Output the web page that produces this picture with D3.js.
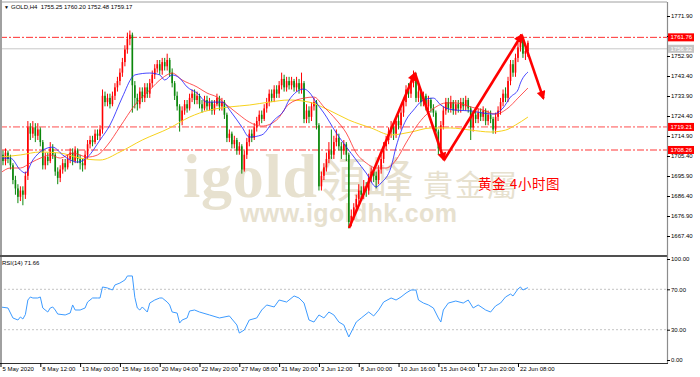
<!DOCTYPE html>
<html>
<head>
<meta charset="utf-8">
<script src="https://cdn.jsdelivr.net/npm/d3@7"></script>
<style>
  html, body { margin: 0; padding: 0; background: #fff; }
  svg { display: block; font-family: "Liberation Sans", Arial, sans-serif; }
</style>
</head>
<body>
<div id="chart"></div>
<script>
// GOLD H4 candles, 5 May - 22 Jun 2020 (open of each bar = previous close)
const firstOpen = 1704;
const closes = [
  1706,1703,1707,1704,1701,1694,1690,1686,1689,1687,
  1696,1719,1716,1719,1715,1718,1712,1701,1705,1703,
  1709,1706,1698,1695,1699,1702,1700,1704,1707,1703,
  1708,1704,1702,1701,1706,1711,1713,1712,1716,1715,
  1718,1734,1731,1733,1730,1734,1738,1741,1745,1750,
  1756,1761,1763,1739,1733,1730,1736,1733,1738,1735,
  1740,1744,1747,1749,1746,1750,1748,1751,1745,1740,
  1734,1729,1722,1727,1730,1728,1733,1735,1732,1734,
  1730,1728,1732,1729,1731,1727,1730,1733,1729,1731,
  1725,1714,1716,1711,1713,1708,1710,1699,1706,1712,
  1716,1714,1719,1722,1725,1723,1728,1731,1735,1733,
  1737,1735,1739,1742,1738,1741,1739,1741,1738,1740,
  1737,1740,1723,1727,1724,1729,1731,1720,1691,1696,
  1700,1704,1708,1706,1712,1714,1710,1708,1711,1706,
  1674,1677,1681,1685,1689,1687,1691,1689,1695,1698,
  1696,1694,1699,1704,1710,1713,1717,1719,1716,1722,
  1720,1726,1731,1737,1735,1740,1743,1733,1736,1731,
  1734,1729,1732,1728,1726,1717,1709,1720,1727,1731,
  1728,1731,1727,1730,1728,1731,1729,1732,1728,1719,
  1725,1723,1726,1724,1727,1722,1725,1723,1718,1724,
  1727,1731,1735,1733,1741,1749,1745,1752,1757,1761,
  1754,1755.25,1759.17
];
const highs = [
  1709,1708,1709,1708,1706,1702,1696,1692,1691,1691,
  1698,1722,1721,1722,1721,1721,1719,1713,1707,1707,
  1712,1711,1707,1700,1701,1704,1704,1706,1709,1709,
  1710,1709,1706,1704,1708,1713,1715,1715,1718,1718,
  1720,1737,1736,1735,1735,1736,1740,1743,1747,1752,
  1758,1764,1765,1764,1741,1735,1738,1738,1740,1740,
  1742,1746,1749,1751,1751,1752,1752,1754,1752,1747,
  1741,1736,1730,1729,1732,1732,1735,1737,1737,1736,
  1735,1732,1734,1734,1733,1732,1732,1735,1734,1733,
  1732,1726,1718,1717,1715,1714,1712,1711,1708,1714,
  1718,1718,1721,1724,1727,1727,1730,1733,1737,1737,
  1739,1739,1741,1745,1744,1743,1743,1743,1742,1743,
  1742,1745,1741,1730,1729,1731,1733,1732,1721,1698,
  1702,1707,1712,1718,1715,1718,1716,1712,1713,1712,
  1707,1680,1683,1687,1692,1691,1694,1693,1697,1700,
  1700,1698,1701,1706,1712,1715,1719,1722,1721,1724,
  1725,1728,1733,1739,1740,1742,1746,1745,1739,1737,
  1736,1735,1734,1733,1730,1727,1718,1722,1729,1733,
  1733,1734,1732,1732,1732,1733,1733,1734,1733,1729,
  1727,1727,1728,1728,1729,1728,1727,1727,1724,1726,
  1729,1733,1737,1738,1743,1751,1751,1754,1759,1763.3,
  1762,1757,1760.2
];
const lows = [
  1702,1701,1701,1702,1699,1692,1687,1683,1684,1682,
  1685,1694,1713,1714,1712,1713,1710,1699,1699,1701,
  1702,1704,1696,1692,1693,1697,1698,1699,1702,1701,
  1702,1702,1699,1698,1699,1704,1709,1710,1711,1713,
  1713,1716,1729,1729,1728,1729,1732,1736,1739,1743,
  1748,1754,1758,1726,1728,1727,1728,1731,1731,1733,
  1733,1738,1742,1745,1744,1744,1746,1746,1743,1738,
  1732,1727,1717,1720,1725,1726,1727,1731,1730,1730,
  1728,1726,1727,1727,1727,1725,1725,1729,1727,1727,
  1723,1712,1712,1709,1709,1706,1706,1697,1698,1704,
  1710,1712,1713,1717,1720,1721,1722,1726,1729,1731,
  1731,1733,1733,1737,1736,1736,1737,1737,1736,1736,
  1735,1735,1721,1721,1721,1722,1727,1718,1689,1689,
  1694,1698,1702,1704,1704,1710,1708,1704,1706,1703,
  1671,1672,1675,1679,1683,1685,1685,1686,1687,1693,
  1693,1690,1692,1697,1702,1708,1711,1714,1713,1714,
  1718,1718,1724,1729,1733,1733,1738,1731,1731,1729,
  1729,1727,1727,1726,1724,1715,1706,1707,1718,1725,
  1726,1726,1725,1725,1726,1726,1727,1727,1726,1713,
  1717,1721,1721,1722,1722,1720,1720,1721,1716,1716,
  1722,1725,1729,1731,1731,1739,1743,1743,1750,1755,
  1752,1751,1752.48
];

// moving averages: [bar, price]
const maFast = [
  [0,1704.4],[4,1704.4],[8,1698.7],[10,1697.3],[13,1703.5],[17,1708.2],[21,1709.6],
  [25,1705.9],[28,1703.5],[31,1702.5],[35,1704.9],[40,1713.0],[44,1720.1],[49,1733.4],
  [53,1742.9],[54,1743.9],[60,1744.8],[64,1743.9],[66,1741.5],[69,1743.9],[72,1742.4],
  [75,1738.2],[79,1735.3],[83,1731.0],[87,1731.0],[89,1731.0],[93,1725.8],[97,1719.2],
  [100,1714.4],[105,1715.4],[110,1722.5],[114,1727.2],[116,1732.0],[122,1737.2],
  [124,1735.8],[127,1730.6],[130,1725.8],[135,1716.3],[139,1709.7],[143,1703.5],
  [147,1697.3],[151,1690.7],[153,1692.6],[157,1700.2],[159,1709.7],[163,1722.5],
  [166,1727.2],[170,1732.0],[174,1732.9],[177,1729.6],[179,1728.2],[183,1727.2],
  [189,1726.8],[194,1725.8],[198,1725.3],[202,1728.2],[205,1733.4],[208,1736.8],
  [209,1740.1],[212,1745.3]
];
const maMid = [
  [0,1697.3],[4,1699.7],[8,1699.7],[12,1702.1],[17,1704.9],[20,1705.9],[24,1704.4],
  [29,1706.8],[35,1704.9],[39,1705.9],[43,1710.6],[48,1719.2],[54,1729.6],[60,1736.8],
  [65,1742.4],[69,1744.8],[73,1741.5],[79,1738.2],[83,1735.3],[87,1733.4],[91,1729.6],
  [96,1724.9],[100,1721.5],[105,1719.6],[111,1722.5],[116,1730.1],[122,1732.9],
  [126,1733.4],[130,1728.7],[135,1722.5],[139,1716.3],[143,1706.8],[147,1702.1],
  [151,1699.7],[155,1699.7],[159,1703.5],[163,1711.6],[167,1719.2],[171,1724.9],
  [175,1728.7],[179,1730.6],[183,1730.6],[189,1728.7],[194,1727.2],[199,1725.3],
  [204,1728.2],[208,1732.9],[212,1737.7]
];
const maSlow = [
  [0,1704.9],[8,1705.9],[16,1707.3],[24,1706.8],[32,1704.4],[40,1703.5],[48,1707.3],
  [57,1713.0],[68,1718.7],[76,1723.9],[84,1727.2],[92,1728.7],[100,1729.6],[108,1731.0],
  [116,1732.0],[124,1731.0],[132,1727.2],[140,1722.5],[149,1718.7],[157,1715.4],
  [165,1716.8],[173,1718.7],[181,1718.7],[189,1717.7],[197,1716.8],[203,1717.7],
  [207,1720.1],[212,1723.9]
];

// RSI(14): [bar, value]
const rsiValues = [
  [0,52.5],[3,51.5],[5,41.6],[7,39.6],[8,42.6],[9,40.6],[10,45],[11,59.4],[12,62.4],
  [13,61.4],[15,61.4],[16,62.4],[17,51.5],[19,47.5],[20,51.5],[21,52.5],[22,49.5],
  [23,45.5],[26,44.6],[28,46.5],[29,54.5],[30,49.5],[32,49.5],[34,51.5],[35,57.4],
  [37,61.4],[39,61.4],[40,61.4],[41,72.3],[43,71.3],[45,69.3],[46,74.3],[48,76.2],
  [50,79.2],[51,83.2],[53,83.2],[54,62],[55,51.5],[56,49.5],[57,52.5],[59,47.5],
  [60,56.4],[62,59.4],[64,61.4],[65,61.4],[67,57.4],[68,54.5],[69,47.5],[71,46.5],
  [72,36.6],[73,39.6],[75,41.6],[76,48.5],[78,49.5],[80,47.5],[84,44.6],[88,41.6],
  [92,43.6],[95,34.7],[96,26.7],[98,29.7],[100,39.6],[103,41.6],[105,49.5],[107,54.5],
  [110,52.5],[112,59.4],[115,57.4],[118,63.4],[120,61.4],[122,56.4],[124,39.6],
  [126,37.6],[128,44.6],[130,41.6],[132,47.5],[134,44.6],[136,37.6],[138,34.7],
  [140,22.8],[141,27.7],[143,37.6],[145,41.6],[148,47.5],[150,43.6],[152,49.5],
  [154,57.4],[157,61.4],[159,59.4],[161,62.4],[163,66.3],[165,69.3],[167,69.3],
  [168,59.4],[170,56.4],[172,54.5],[174,51.5],[176,41.6],[177,37.6],[178,49.5],
  [180,56.4],[183,58.4],[186,56.4],[188,59.4],[190,51.5],[192,54.5],[195,49.5],
  [197,47.5],[199,53.5],[201,56.4],[203,62.4],[205,65.3],[206,63.4],[208,70.3],
  [209,72.3],[210,69.3],[212,71.66]
];

const priceTicks = [1771.9, 1762.4, 1752.9, 1743.4, 1733.9, 1724.4, 1714.9, 1705.4, 1695.9, 1686.4, 1676.9, 1667.4];
const rsiTicks = [100, 70, 30, 0];
const timeTickBars = [0, 16, 32, 48, 64, 80, 96, 112, 128, 144, 160, 176, 192, 208];
const timeTickLabels = ["5 May 2020", "8 May 12:00", "13 May 00:00", "15 May 16:00", "20 May 04:00",
  "22 May 20:00", "27 May 08:00", "31 May 20:00", "3 Jun 12:00", "8 Jun 00:00", "10 Jun 16:00",
  "15 Jun 04:00", "17 Jun 20:00", "22 Jun 08:00"];

const resistanceLevels = [1761.76];
const supportLevels = [1719.21, 1708.26];
const greyLevels = [1756.32];

// hand-drawn arrows: [from, to] as [bar, price]
const arrows = [
  [[140.1, 1671.2], [166.6, 1744.7]],
  [[166.6, 1744.7], [178.3, 1703.5]],
  [[178.3, 1703.5], [209.5, 1762.9]],
  [[209.5, 1762.9], [218.2, 1732.8]]
];

const W = 700, H = 377;
const plotRight = 667;
const mainTop = 2, mainBottom = 255, rsiTop = 257, axisY = 363;

const svg = d3.select("#chart").append("svg").attr("width", W).attr("height", H);
svg.append("rect").attr("width", W).attr("height", H).attr("fill", "#fff");

const x = d3.scaleLinear().domain([-0.2, 267.9]).range([0, plotRight]);
const y = d3.scaleLinear().domain([1667.4, 1771.9]).range([236, 16]);
const yR = d3.scaleLinear().domain([0, 100]).range([360, 259]);

const defs = svg.append("defs");
defs.append("clipPath").attr("id", "clipMain").append("rect")
  .attr("x", 0).attr("y", mainTop).attr("width", plotRight).attr("height", mainBottom - mainTop);
defs.append("clipPath").attr("id", "clipRsi").append("rect")
  .attr("x", 0).attr("y", rsiTop).attr("width", plotRight).attr("height", axisY - rsiTop);
defs.append("marker").attr("id", "head")
  .attr("viewBox", "0 0 10 10").attr("refX", 8).attr("refY", 5)
  .attr("markerWidth", 10).attr("markerHeight", 9)
  .attr("markerUnits", "userSpaceOnUse").attr("orient", "auto")
  .append("path").attr("d", "M0,0L10,5L0,10z").attr("fill", "#ff0000");

// Watermark
const wm = svg.append("g").attr("fill", "#e7e1cf");
wm.append("text").attr("x", 183).attr("y", 197)
  .attr("font-family", "'Liberation Serif', 'DejaVu Serif', serif").attr("font-weight", "bold")
  .attr("font-size", 62).attr("textLength", 134).text("igold");
wm.append("text").attr("x", 318).attr("y", 197)
  .attr("font-family", "'Noto Sans CJK TC', sans-serif").attr("font-size", 48).text("領峰");
wm.append("text").attr("x", 423).attr("y", 196)
  .attr("font-family", "'Noto Sans CJK TC', sans-serif").attr("font-size", 30)
  .attr("letter-spacing", 2).text("貴金屬");
wm.append("text").attr("x", 240).attr("y", 222)
  .attr("font-family", "'Liberation Sans', Arial, sans-serif").attr("font-weight", "bold")
  .attr("font-size", 25).attr("textLength", 217).text("www.igoldhk.com");

const main = svg.append("g").attr("clip-path", "url(#clipMain)");

// Horizontal levels
main.selectAll(".grey").data(greyLevels).join("line")
  .attr("x1", 0).attr("x2", plotRight).attr("y1", d => y(d)).attr("y2", d => y(d))
  .attr("stroke", "#c8c8c8").attr("stroke-width", 1);
main.selectAll(".res").data(resistanceLevels).join("line")
  .attr("x1", 0).attr("x2", plotRight).attr("y1", d => y(d)).attr("y2", d => y(d))
  .attr("stroke", "#ff3030").attr("stroke-width", 1).attr("stroke-dasharray", "7,2,2,2");
main.selectAll(".sup").data(supportLevels).join("line")
  .attr("x1", 0).attr("x2", plotRight).attr("y1", d => y(d)).attr("y2", d => y(d))
  .attr("stroke", "#ff9a9a").attr("stroke-width", 1.8).attr("stroke-dasharray", "7,2,2,2");

// Candles
const bars = closes.map((c, i) => ({
  i, o: i === 0 ? firstOpen : closes[i - 1], h: highs[i], l: lows[i], c
}));
const upCol = "#ff0000", downCol = "#0b870b";
const candles = main.append("g").selectAll("g").data(bars).join("g");
candles.append("line")
  .attr("x1", d => x(d.i)).attr("x2", d => x(d.i))
  .attr("y1", d => y(d.h)).attr("y2", d => y(d.l))
  .attr("stroke", d => d.c >= d.o ? upCol : downCol).attr("stroke-width", 1);
candles.append("rect")
  .attr("x", d => x(d.i) - 0.8).attr("width", 1.6)
  .attr("y", d => y(Math.max(d.o, d.c)))
  .attr("height", d => Math.max(0.8, Math.abs(y(d.o) - y(d.c))))
  .attr("fill", d => d.c >= d.o ? upCol : downCol);

// Moving averages
const maLine = d3.line().x(d => x(d[0])).y(d => y(d[1])).curve(d3.curveMonotoneX);
main.append("path").datum(maSlow).attr("d", maLine)
  .attr("fill", "none").attr("stroke", "#f7d21c").attr("stroke-width", 1);
main.append("path").datum(maMid).attr("d", maLine)
  .attr("fill", "none").attr("stroke", "#ff2a2a").attr("stroke-width", 0.8);
main.append("path").datum(maFast).attr("d", maLine)
  .attr("fill", "none").attr("stroke", "#1a1aff").attr("stroke-width", 0.8);

// Arrows
const arrowLine = d3.line().x(d => x(d[0])).y(d => y(d[1]));
svg.append("g").selectAll("path").data(arrows).join("path")
  .attr("d", arrowLine)
  .attr("fill", "none").attr("stroke", "#ff0000").attr("stroke-width", 2.6)
  .attr("marker-end", "url(#head)");

// Chart caption
svg.append("text").attr("x", 478).attr("y", 189)
  .attr("font-family", "'Noto Sans CJK SC', sans-serif").attr("font-size", 13.5)
  .attr("fill", "#ff0000").attr("letter-spacing", 0.6).text("黄金 4小时图");

// RSI panel
const rsiG = svg.append("g").attr("clip-path", "url(#clipRsi)");
rsiG.selectAll(".lvl").data([70, 30]).join("line")
  .attr("x1", 0).attr("x2", plotRight).attr("y1", d => yR(d)).attr("y2", d => yR(d))
  .attr("stroke", "#c4c4c4").attr("stroke-width", 1).attr("stroke-dasharray", "2,2");
rsiG.append("path").datum(rsiValues)
  .attr("d", d3.line().x(d => x(d[0])).y(d => yR(d[1])))
  .attr("fill", "none").attr("stroke", "#3d9bff").attr("stroke-width", 1);

// Frame
svg.append("line").attr("x1", 0).attr("x2", plotRight).attr("y1", mainTop).attr("y2", mainTop)
  .attr("stroke", "#a0a0a0").attr("stroke-width", 1);
svg.append("line").attr("x1", 1).attr("x2", 1).attr("y1", 0).attr("y2", axisY)
  .attr("stroke", "#a0a0a0").attr("stroke-width", 2);
svg.append("line").attr("x1", 0).attr("x2", plotRight).attr("y1", 256).attr("y2", 256)
  .attr("stroke", "#505050").attr("stroke-width", 2);
svg.append("line").attr("x1", plotRight + 0.5).attr("x2", plotRight + 0.5).attr("y1", mainTop).attr("y2", axisY)
  .attr("stroke", "#8c8c8c").attr("stroke-width", 1.2);
svg.append("line").attr("x1", 0).attr("x2", plotRight + 1).attr("y1", axisY + 0.5).attr("y2", axisY + 0.5)
  .attr("stroke", "#303030").attr("stroke-width", 1.2);

// Axes
const styleAxis = (g) => {
  g.select(".domain").remove();
  g.selectAll("line").attr("stroke", "#000");
  g.selectAll("text").attr("font-size", 6).attr("fill", "#000")
    .attr("font-family", "'Liberation Sans', Arial, sans-serif");
};
svg.append("g").attr("transform", `translate(${plotRight},0)`)
  .call(d3.axisRight(y).tickValues(priceTicks).tickSize(3).tickPadding(1).tickFormat(d3.format(".2f")))
  .call(styleAxis);
svg.append("g").attr("transform", `translate(${plotRight},0)`)
  .call(d3.axisRight(yR).tickValues(rsiTicks).tickSize(3).tickPadding(1).tickFormat(d3.format(".2f")))
  .call(styleAxis);
svg.append("g").attr("transform", `translate(0,${axisY})`)
  .call(d3.axisBottom(x).tickValues(timeTickBars).tickSize(4).tickPadding(0)
    .tickFormat((d, i) => timeTickLabels[i]))
  .call(styleAxis)
  .call(g => g.selectAll("text").attr("text-anchor", "start").attr("x", 1.5));

// Price label boxes on the right axis
const boxes = [
  ...resistanceLevels.map(p => ({ p, fill: "#ff0000" })),
  ...greyLevels.map(p => ({ p, fill: "#c4c4c4" })),
  ...supportLevels.map(p => ({ p, fill: "#ff0000" }))
];
const boxG = svg.append("g").selectAll("g").data(boxes).join("g")
  .attr("transform", d => `translate(${plotRight + 1},${y(d.p)})`);
boxG.append("rect").attr("x", 0).attr("y", -4).attr("width", 26).attr("height", 8)
  .attr("fill", d => d.fill);
boxG.append("text").attr("x", 2.5).attr("dy", "0.35em").attr("font-size", 6)
  .attr("fill", "#fff").text(d => d.p.toFixed(2));

// Header and RSI label
svg.append("text").attr("x", 4).attr("y", 9).attr("font-size", 5).attr("fill", "#000").text("▼");
svg.append("text").attr("x", 11).attr("y", 9).attr("font-size", 6).attr("fill", "#000")
  .attr("xml:space", "preserve").text("GOLD,H4  1755.25 1760.20 1752.48 1759.17");
svg.append("text").attr("x", 2).attr("y", 265).attr("font-size", 6).attr("fill", "#000")
  .text("RSI(14) 71.66");
</script>
</body>
</html>
